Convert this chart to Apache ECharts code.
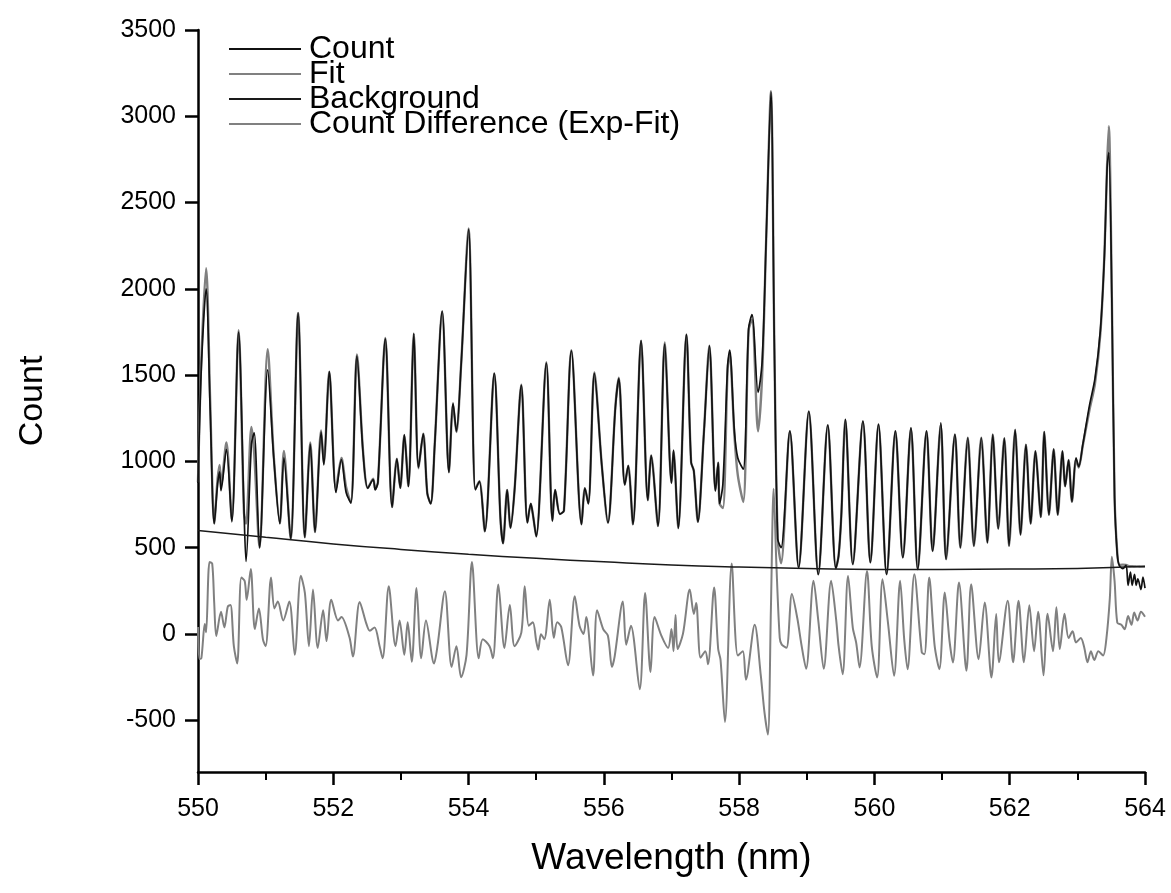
<!DOCTYPE html>
<html>
<head>
<meta charset="utf-8">
<script src="https://cdn.jsdelivr.net/npm/echarts@6/dist/echarts.min.js"></script>
<style>
  html, body { margin: 0; padding: 0; background: #fff; }
  #main { width: 1171px; height: 893px; }
</style>
</head>
<body>
<div id="main"></div>
<script>
// wavelength grid shared by Count and Fit (nm)
var wl = [
  550.00, 550.05, 550.12, 550.18, 550.24, 550.29, 550.32, 550.34, 550.42, 550.50,
  550.60, 550.68, 550.71, 550.79, 550.83, 550.91, 551.03, 551.12, 551.21, 551.27,
  551.37, 551.48, 551.58, 551.66, 551.73, 551.82, 551.86, 551.94, 552.04, 552.12,
  552.19, 552.26, 552.35, 552.44, 552.51, 552.59, 552.62, 552.66, 552.77, 552.87,
  552.94, 552.99, 553.05, 553.11, 553.19, 553.26, 553.33, 553.39, 553.44, 553.50,
  553.61, 553.71, 553.77, 553.82, 553.89, 554.00, 554.10, 554.16, 554.24, 554.38,
  554.47, 554.51, 554.57, 554.62, 554.68, 554.78, 554.87, 554.92, 554.95, 555.00,
  555.15, 555.24, 555.28, 555.35, 555.41, 555.52, 555.67, 555.72, 555.77, 555.86,
  555.97, 556.06, 556.17, 556.22, 556.31, 556.36, 556.43, 556.55, 556.65, 556.70,
  556.80, 556.90, 557.00, 557.03, 557.10, 557.22, 557.29, 557.33, 557.39, 557.48,
  557.56, 557.65, 557.69, 557.71, 557.76, 557.83, 557.86, 557.93, 557.98, 558.06,
  558.14, 558.19, 558.28, 558.34, 558.40, 558.47, 558.52, 558.57, 558.62, 558.75,
  558.88, 559.03, 559.17, 559.31, 559.43, 559.47, 559.51, 559.57, 559.68, 559.83,
  559.94, 560.06, 560.18, 560.31, 560.42, 560.54, 560.64, 560.77, 560.86, 560.98,
  561.06, 561.19, 561.27, 561.38, 561.47, 561.58, 561.67, 561.75, 561.83, 561.92,
  561.99, 562.08, 562.16, 562.24, 562.31, 562.38, 562.46, 562.51, 562.58, 562.65,
  562.71, 562.78, 562.82, 562.87, 562.92, 562.98, 563.02, 563.08, 563.18, 563.26,
  563.34, 563.40, 563.44, 563.465, 563.51, 563.55, 563.59, 563.62, 563.67, 563.72,
  563.75, 563.785, 563.81, 563.845, 563.87, 563.895, 563.94, 563.97, 564.00
];

var countVals = [
  875, 1550, 2000, 1300, 640, 870, 940, 830, 1070, 650,
  1750, 720, 420, 1100, 1165, 500, 1530, 1020, 640, 1020,
  550, 1860, 560, 1100, 590, 1170, 980, 1520, 820, 1010,
  820, 760, 1610, 1050, 845, 895, 835, 880, 1710, 735,
  1015, 845, 1155, 855, 1740, 965, 1160, 815, 755, 1100,
  1870, 935, 1340, 1175, 1560, 2345, 835, 885, 595, 1510,
  675, 525, 835, 615, 835, 1440, 645, 755, 695, 565,
  1570, 655, 835, 695, 715, 1640, 635, 845, 755, 1510,
  975, 645, 1310, 1480, 865, 975, 635, 1700, 775, 1035,
  625, 1680, 875, 1065, 613, 1735, 995, 945, 650, 1170,
  1670, 830, 995, 755, 870, 1555, 1645, 1175, 1020, 955,
  1770, 1850, 1400, 1580, 2295, 3140, 1680, 550, 500, 1175,
  385, 1290, 345, 1210, 380, 452, 684, 1243, 404, 1233,
  414, 1214, 346, 1175, 443, 1195, 375, 1175, 481, 1224,
  433, 1156, 500, 1137, 510, 1137, 529, 1156, 610, 1135,
  511, 1186, 575, 1097, 639, 1059, 677, 1173, 690, 1071,
  690, 1059, 855, 1008, 766, 1021, 970, 1097, 1326, 1479,
  1759, 2192, 2701, 2790, 1937, 791, 460, 397, 379, 397,
  282, 358, 282, 346, 282, 320, 257, 330, 265
];

var fitVals = [
  880, 1600, 2120, 1350, 640, 900, 980, 860, 1110, 660,
  1760, 700, 640, 1200, 1050, 500, 1650, 1030, 640, 1060,
  550, 1860, 560, 1110, 590, 1180, 990, 1520, 840, 1020,
  850, 760, 1620, 1060, 845, 900, 840, 880, 1715, 735,
  1015, 845, 1150, 855, 1740, 960, 1160, 815, 755, 1100,
  1870, 940, 1330, 1170, 1560, 2350, 840, 885, 595, 1510,
  680, 525, 835, 615, 835, 1445, 645, 755, 695, 565,
  1575, 655, 835, 695, 715, 1645, 635, 845, 755, 1515,
  975, 645, 1315, 1485, 865, 975, 635, 1700, 775, 1035,
  625, 1690, 875, 1060, 613, 1735, 995, 945, 650, 1175,
  1670, 830, 990, 755, 730, 1540, 1620, 1150, 920, 765,
  1760, 1820, 1175, 1500, 2290, 3145, 1690, 550, 410, 1175,
  385, 1290, 345, 1210, 380, 452, 684, 1240, 404, 1230,
  414, 1214, 346, 1175, 443, 1190, 375, 1175, 481, 1210,
  433, 1156, 500, 1137, 510, 1137, 529, 1156, 610, 1135,
  511, 1180, 575, 1097, 639, 1059, 677, 1170, 690, 1071,
  690, 1059, 855, 1008, 766, 1010, 965, 1090, 1300, 1450,
  1740, 2200, 2720, 2943, 1950, 800, 470, 400, 402, 400,
  395, 392, 392, 391, 390, 390, 389, 389, 389
];

// background curve
var bgWl = [550, 551, 552, 553, 554, 555, 556, 557, 558, 559, 560, 561, 562, 563, 564];
var bgVals = [600, 560, 522, 490, 462, 438, 418, 400, 388, 380, 374, 374, 376, 380, 392];

// count difference (Exp-Fit)
var diffWl = [
  550.00, 550.02, 550.05, 550.10, 550.12, 550.17, 550.21, 550.24, 550.27, 550.34,
  550.39, 550.44, 550.48, 550.53, 550.58, 550.64, 550.69, 550.72, 550.78, 550.84,
  550.90, 550.96, 551.00, 551.08, 551.13, 551.18, 551.26, 551.35, 551.43, 551.52,
  551.58, 551.64, 551.70, 551.77, 551.85, 551.90, 551.97, 552.07, 552.12, 552.24,
  552.29, 552.39, 552.49, 552.54, 552.61, 552.685, 552.73, 552.82, 552.92, 552.98,
  553.05, 553.10, 553.16, 553.23, 553.30, 553.37, 553.49, 553.54, 553.65, 553.75,
  553.82, 553.89, 553.97, 554.05, 554.15, 554.21, 554.31, 554.36, 554.44, 554.53,
  554.61, 554.68, 554.78, 554.83, 554.89, 554.95, 555.00, 555.03, 555.07, 555.12,
  555.20, 555.26, 555.31, 555.37, 555.47, 555.57, 555.64, 555.70, 555.74, 555.84,
  555.90, 555.99, 556.06, 556.12, 556.16, 556.28, 556.33, 556.40, 556.53, 556.61,
  556.69, 556.75, 556.85, 556.95, 557.00, 557.03, 557.06, 557.09, 557.17, 557.27,
  557.33, 557.365, 557.43, 557.50, 557.54, 557.63, 557.69, 557.725, 557.79, 557.89,
  557.98, 558.055, 558.10, 558.23, 558.32, 558.375, 558.425, 558.47, 558.51, 558.55,
  558.60, 558.63, 558.70, 558.78, 558.86, 558.92, 558.99, 559.10, 559.17, 559.25,
  559.36, 559.435, 559.47, 559.53, 559.61, 559.68, 559.73, 559.78, 559.89, 559.96,
  560.04, 560.12, 560.20, 560.29, 560.38, 560.44, 560.49, 560.59, 560.70, 560.74,
  560.81, 560.89, 560.96, 561.04, 561.11, 561.16, 561.25, 561.36, 561.43, 561.54,
  561.63, 561.73, 561.80, 561.84, 561.97, 562.05, 562.13, 562.21, 562.29, 562.36,
  562.42, 562.50, 562.56, 562.64, 562.69, 562.74, 562.81, 562.87, 562.93, 562.98,
  563.05, 563.10, 563.15, 563.20, 563.25, 563.31, 563.38, 563.43, 563.48, 563.51,
  563.55, 563.59, 563.65, 563.70, 563.75, 563.80, 563.84, 563.89, 563.94, 564.00
];

var diffVals = [
  40, -145, -140, 58, 10, 417, 407, 178, -12, 128,
  38, 158, 168, -71, -171, 327, 307, 198, 377, 28,
  148, -31, -71, 327, 148, 188, 78, 188, -121, 337,
  238, -71, 257, -81, 138, -41, 198, 78, 98, -21,
  -131, 185, 58, 18, 38, -71, -141, 277, -71, 78,
  -121, 68, -161, 267, -141, 78, -171, -71, 247, -191,
  -71, -251, -121, 417, -141, -31, -71, -141, 287, -81,
  168, -71, 8, 277, 48, 68, -41, -91, -1, -30,
  198, -22, 68, 40, -181, 218, 48, 0, 98, -241,
  138, 28, -10, -191, -130, 188, -62, 48, -320, 238,
  -221, 98, -10, -81, 28, -100, 110, -87, 2, 257,
  116, 180, -138, -100, -176, 269, -87, -150, -510, 409,
  -125, -100, -265, 53, -240, -456, -583, 155, 842, 409,
  -23, -62, -80, 231, 91, -60, -202, 308, 78, -202,
  308, 80, -69, -233, 336, 37, -50, -194, 365, -69,
  -252, 317, 66, -242, 308, -30, -204, 346, -107, -117,
  327, -68, -204, 240, -40, -165, 298, -213, 288, -146,
  182, -252, 115, -164, 193, -164, 193, -164, 167, -100,
  129, -240, 117, -100, 155, -87, 117, -24, 15, -49,
  -24, -75, -164, -100, -151, -100, -125, -24, 206, 447,
  308, 66, 53, 27, 104, 53, 124, 78, 129, 100
];

var yTickVals = [-500, 0, 500, 1000, 1500, 2000, 2500, 3000, 3500];
var legendNames = ['Count', 'Fit', 'Background', 'Count Difference (Exp-Fit)'];

var font = 'Arial, "Liberation Sans", Helvetica, sans-serif';

function pairs(xs, ys) {
  return xs.map(function (x, i) { return [x, ys[i]]; });
}

var myChart = echarts.init(document.getElementById('main'));

var option = {
  animation: false,
  backgroundColor: '#fff',
  grid: { left: 198, right: 26, top: 30, bottom: 121 },
  legend: {
    data: legendNames,
    orient: 'vertical',
    left: 228,
    top: 33,
    padding: 0,
    itemWidth: 72,
    itemHeight: 14,
    itemGap: -7,
    itemStyle: { opacity: 0 },
    textStyle: { fontSize: 32, color: '#000', fontFamily: font, padding: [0, 0, 0, 3] }
  },
  xAxis: {
    type: 'value',
    min: 550,
    max: 564,
    interval: 2,
    name: 'Wavelength (nm)',
    nameLocation: 'middle',
    nameGap: 68,
    nameTextStyle: { fontSize: 37, color: '#000', fontFamily: font },
    axisLine: { onZero: false, lineStyle: { color: '#000', width: 2.5 } },
    axisTick: { length: 13, lineStyle: { color: '#000', width: 2.5 } },
    minorTick: { show: true, splitNumber: 2, length: 8, lineStyle: { color: '#000', width: 2 } },
    axisLabel: { fontSize: 25, color: '#000', margin: 25, fontFamily: font },
    splitLine: { show: false }
  },
  yAxis: {
    type: 'value',
    min: -800,
    max: 3500,
    name: 'Count',
    nameLocation: 'middle',
    nameGap: 148,
    nameRotate: 90,
    nameTextStyle: { fontSize: 34, color: '#000', fontFamily: font },
    axisLine: { show: true, onZero: false, lineStyle: { color: '#000', width: 2.5 } },
    axisTick: { show: true, length: 13, customValues: yTickVals, lineStyle: { color: '#000', width: 2.5 } },
    axisLabel: {
      fontSize: 25, color: '#000', margin: 22, fontFamily: font, customValues: yTickVals,
      formatter: function (v) { return String(v); }
    },
    splitLine: { show: false }
  },
  series: [
    {
      name: 'Fit',
      type: 'line',
      data: pairs(wl, fitVals),
      symbol: 'none',
      smooth: 0.3,
      silent: true,
      z: 2,
      itemStyle: { color: '#808080' },
      lineStyle: { color: '#808080', width: 2.4 }
    },
    {
      name: 'Count',
      type: 'line',
      data: pairs(wl, countVals),
      symbol: 'none',
      smooth: 0.3,
      silent: true,
      z: 3,
      itemStyle: { color: '#111' },
      lineStyle: { color: '#111', width: 1.7 }
    },
    {
      name: 'Background',
      type: 'line',
      data: pairs(bgWl, bgVals),
      symbol: 'none',
      smooth: true,
      silent: true,
      z: 4,
      itemStyle: { color: '#1a1a1a' },
      lineStyle: { color: '#1a1a1a', width: 1.5 }
    },
    {
      name: 'Count Difference (Exp-Fit)',
      type: 'line',
      data: pairs(diffWl, diffVals),
      symbol: 'none',
      smooth: 0.3,
      silent: true,
      z: 2,
      itemStyle: { color: '#808080' },
      lineStyle: { color: '#808080', width: 2 }
    }
  ]
};

myChart.setOption(option);
</script>
</body>
</html>
